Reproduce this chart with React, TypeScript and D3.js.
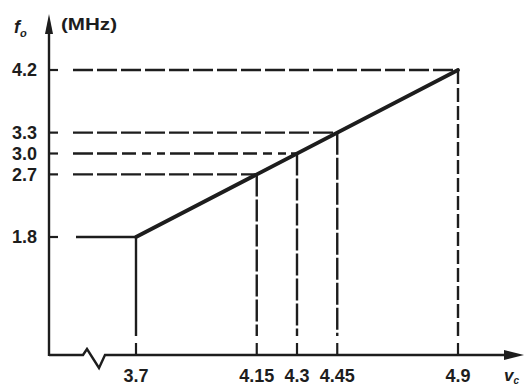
import * as d3 from 'd3';

// control voltage (V) vs. output frequency (MHz)
const vcValues = [3.7, 4.15, 4.3, 4.45, 4.9];
const foValues = [1.8, 2.7, 3.0, 3.3, 4.2];
const vcLabels = ['3.7', '4.15', '4.3', '4.45', '4.9'];
const foLabels = ['1.8', '2.7', '3.0', '3.3', '4.2'];

// the transfer curve: flat at 1.8 then linear up to 4.2
const curveVc = [3.7, 4.9];
const curveFo = [1.8, 4.2];

const W = 528;
const H = 388;
const ink = '#1d1d1d';

// dash patterns for the guide lines (horizontal, vertical)
const hDash = ['none', '20 4', '20 4 20 5 14 6 9 6 8 5 20 4', '20 4', '20 4'];
const vDash = ['none', '22 3', '22 3', '22 3', '14 4'];

export default function App() {
  const axisX = 49;
  const axisY = 355;
  const gridStart = 73;

  const x = d3.scaleLinear().domain([3.7, 4.9]).range([136, 458]);
  const y = d3.scaleLinear().domain([1.8, 4.2]).range([237, 70]);

  const curve = d3.line<number>()
    .x(d => x(d))
    .y((d, i) => y(curveFo[i]));

  const xAxisPath = d3.path();
  xAxisPath.moveTo(axisX, axisY);
  xAxisPath.lineTo(83, axisY);
  xAxisPath.lineTo(87, 349);
  xAxisPath.lineTo(99, 368);
  xAxisPath.lineTo(105, axisY);
  xAxisPath.lineTo(508, axisY);

  const font = '"Liberation Sans", Arial, sans-serif';

  return (
    <svg width={W} height={H} style={{ position: 'absolute', left: 0, top: 0, background: '#fff' }}>
      {/* y axis with arrow */}
      <line x1={axisX} x2={axisX} y1={34} y2={axisY + 1} stroke={ink} strokeWidth={2.4} />
      <path d={`M${axisX},14 L${axisX - 4},34 L${axisX + 4},34 Z`} fill={ink} />
      {/* x axis with break and arrow */}
      <path d={xAxisPath.toString()} fill="none" stroke={ink} strokeWidth={2.4} strokeLinejoin="miter" />
      <path d={`M524,${axisY} L504,${axisY - 5} L504,${axisY + 5} Z`} fill={ink} />

      {/* y ticks and labels */}
      {foValues.map((f, i) => (
        <g key={'y' + i}>
          <line x1={axisX} x2={axisX + 9} y1={y(f)} y2={y(f)} stroke={ink} strokeWidth={2.2} />
          <text x={37} y={y(f)} dy="0.36em" textAnchor="end" fontFamily={font} fontWeight="bold" fontSize={18} fill={ink}>
            {foLabels[i]}
          </text>
        </g>
      ))}

      {/* x ticks and labels */}
      {vcValues.map((v, i) => (
        <g key={'x' + i}>
          <line x1={x(v)} x2={x(v)} y1={axisY - 12} y2={axisY} stroke={ink} strokeWidth={2.2} />
          <text x={x(v)} y={382} textAnchor="middle" fontFamily={font} fontWeight="bold" fontSize={18} fill={ink}>
            {vcLabels[i]}
          </text>
        </g>
      ))}

      {/* guide lines from the curve to the axes */}
      {vcValues.map((v, i) => (
        <g key={'g' + i}>
          <line
            x1={i === 0 ? 76 : gridStart}
            x2={x(v)}
            y1={y(foValues[i])}
            y2={y(foValues[i])}
            stroke={ink}
            strokeWidth={2.4}
            strokeDasharray={hDash[i]}
          />
          <line
            x1={x(v)}
            x2={x(v)}
            y1={y(foValues[i])}
            y2={336}
            stroke={ink}
            strokeWidth={2.4}
            strokeDasharray={vDash[i]}
          />
        </g>
      ))}

      {/* transfer curve */}
      <path d={curve(curveVc) || ''} fill="none" stroke={ink} strokeWidth={3.8} strokeLinecap="round" />

      {/* axis titles */}
      <text x={14} y={33} fontFamily={font} fontWeight="bold" fontStyle="italic" fontSize={18} fill={ink}>
        f<tspan fontSize={11} dy={4}>o</tspan>
      </text>
      <text x={61} y={30} textLength={56} lengthAdjust="spacingAndGlyphs" fontFamily={font} fontWeight="bold" fontSize={16} fill={ink}>(MHz)</text>
      <text x={504} y={381} fontFamily={font} fontWeight="bold" fontStyle="italic" fontSize={17} fill={ink}>
        v<tspan fontSize={10} dy={3}>c</tspan>
      </text>
    </svg>
  );
}
